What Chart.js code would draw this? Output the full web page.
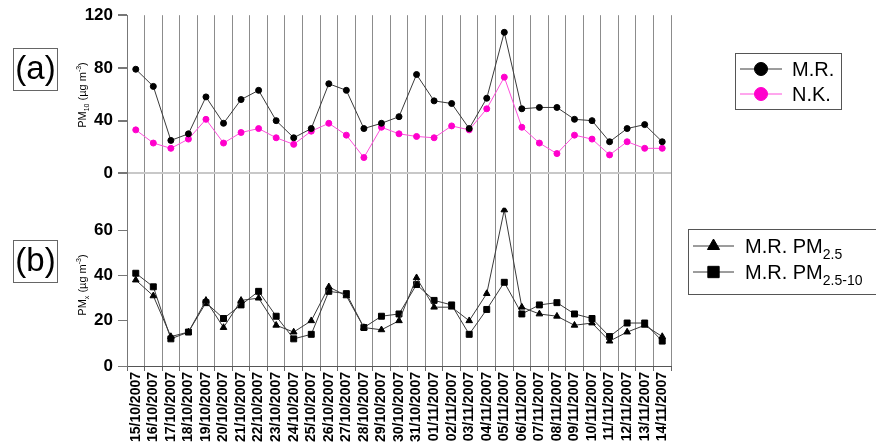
<!DOCTYPE html>
<html>
<head>
<meta charset="utf-8">
<script src="https://cdn.jsdelivr.net/npm/chart.js@4.4.0/dist/chart.umd.min.js"></script>
<style>
html,body{margin:0;padding:0;background:#fff;}
</style>
</head>
<body>
<canvas id="pmChart" width="876" height="445"></canvas>
<script>
// sampling days
const dates = ['15/10/2007','16/10/2007','17/10/2007','18/10/2007','19/10/2007','20/10/2007',
  '21/10/2007','22/10/2007','23/10/2007','24/10/2007','25/10/2007','26/10/2007','27/10/2007',
  '28/10/2007','29/10/2007','30/10/2007','31/10/2007','01/11/2007','02/11/2007','03/11/2007',
  '04/11/2007','05/11/2007','06/11/2007','07/11/2007','08/11/2007','09/11/2007','10/11/2007',
  '11/11/2007','12/11/2007','13/11/2007','14/11/2007'];

// (a) PM10
const mrPM10 = [79,66,25,30,58,38,56,63,40,27,34,68,63,34,38,43,75,55,53,34,57,107,49,50,50,41,40,24,34,37,24];
const nkPM10 = [33,23,19,26,41,23,31,34,27,22,32,38,29,12,35,30,28,27,36,33,49,73,35,23,15,29,26,14,24,19,19];

// (b) PMx at M.R.
const mrPM25   = [38,31,13,15,29,17,29,30,18,15,20,35,31,17,16,20,39,26,26,20,32,69,26,23,22,18,19,11,15,18,13];
const mrPM2510 = [41,35,12,15,28,21,27,33,22,12,14,33,32,17,22,23,36,29,27,14,25,37,23,27,28,23,21,13,19,19,11];

// tick marks (labels only every other one)
const ticksA = [0,20,40,60,80,100,120];
const ticksB = [0,10,20,30,40,50,60,70];

const FONT = '"Liberation Sans", Arial, sans-serif';
const tickFont = {family: FONT, size: 17, weight: 'bold'};

function fontFor(mode, size) {
  return (mode === 'n' ? size : Math.round(size * 0.68)) + 'px ' + FONT;
}
function richWidth(ctx, parts, size) {
  let w = 0;
  parts.forEach(p => { ctx.font = fontFor(p[1], size); w += ctx.measureText(p[0]).width; });
  return w;
}
function drawRich(ctx, parts, x, y, size) {
  ctx.textAlign = 'left';
  ctx.textBaseline = 'alphabetic';
  parts.forEach(p => {
    ctx.font = fontFor(p[1], size);
    const dy = p[1] === 'sub' ? size * 0.3 : p[1] === 'sup' ? -size * 0.42 : 0;
    ctx.fillText(p[0], x, y + dy);
    x += ctx.measureText(p[0]).width;
  });
}

const titleA = [['PM','n'],['10','sub'],[' (\u00b5g m','n'],['-3','sup'],[')','n']];
const titleB = [['PM','n'],['x','sub'],[' (\u00b5g m','n'],['-3','sup'],[')','n']];

const legendA = {box: [735, 53, 106, 56], lineX: [740, 782], textX: 792, rows: [
  {ds: 0, y: 69, r: 6.5, parts: [['M.R.','n']]},
  {ds: 1, y: 94, r: 6.5, parts: [['N.K.','n']]}
]};
const legendB = {box: [688, 229, 200, 65], lineX: [693, 734], textX: 745, rows: [
  {ds: 2, y: 246, r: 7, parts: [['M.R. PM','n'],['2.5','sub']]},
  {ds: 3, y: 272, r: 8, parts: [['M.R. PM','n'],['2.5-10','sub']]}
]};

const decor = {
  id: 'decor',
  afterDraw(chart) {
    const ctx = chart.ctx;
    ctx.save();
    ctx.fillStyle = '#000';

    // panel letters
    [['(a)', 48], ['(b)', 240]].forEach(([t, y]) => {
      ctx.strokeStyle = '#666';
      ctx.lineWidth = 1;
      ctx.strokeRect(13.5, y + 0.5, 44, 42);
      ctx.font = '33px ' + FONT;
      ctx.textAlign = 'center';
      ctx.textBaseline = 'middle';
      ctx.fillText(t, 35.5, y + 22);
    });

    // axis titles
    [[titleA, 95], [titleB, 285]].forEach(([parts, cy]) => {
      ctx.save();
      ctx.translate(82, cy);
      ctx.rotate(-Math.PI / 2);
      const w = richWidth(ctx, parts, 11);
      drawRich(ctx, parts, -w / 2, 4, 11);
      ctx.restore();
    });

    // legends
    [legendA, legendB].forEach(lg => {
      ctx.strokeStyle = '#555';
      ctx.lineWidth = 1;
      ctx.strokeRect(lg.box[0] + 0.5, lg.box[1] + 0.5, lg.box[2], lg.box[3]);
      lg.rows.forEach(row => {
        const ds = chart.data.datasets[row.ds];
        ctx.strokeStyle = ds.borderColor;
        ctx.beginPath();
        ctx.moveTo(lg.lineX[0], row.y);
        ctx.lineTo(lg.lineX[1], row.y);
        ctx.stroke();
        ctx.fillStyle = ds.pointBackgroundColor;
        ctx.strokeStyle = ds.pointBackgroundColor;
        Chart.helpers.drawPoint(ctx, {pointStyle: ds.pointStyle, radius: row.r, rotation: 0, borderWidth: 1},
          (lg.lineX[0] + lg.lineX[1]) / 2, row.y);
        ctx.fillStyle = '#000';
        drawRich(ctx, row.parts, lg.textX, row.y + 7, 20);
      });
    });
    ctx.restore();
  }
};

new Chart(document.getElementById('pmChart'), {
  type: 'line',
  data: {
    labels: dates,
    datasets: [
      {
        label: 'M.R.',
        data: mrPM10,
        yAxisID: 'yA',
        borderColor: '#3a3a3a',
        borderWidth: 1,
        pointStyle: 'circle',
        pointRadius: 3,
        pointBackgroundColor: '#000',
        pointBorderColor: '#000',
        tension: 0
      },
      {
        label: 'N.K.',
        data: nkPM10,
        yAxisID: 'yA',
        borderColor: '#ff4fdc',
        borderWidth: 1,
        pointStyle: 'circle',
        pointRadius: 3,
        pointBackgroundColor: '#ff00cc',
        pointBorderColor: '#ff00cc',
        tension: 0
      },
      {
        label: 'M.R. PM2.5',
        data: mrPM25,
        yAxisID: 'yB',
        borderColor: '#3a3a3a',
        borderWidth: 1,
        pointStyle: 'triangle',
        pointRadius: 3.8,
        pointBackgroundColor: '#000',
        pointBorderColor: '#000',
        tension: 0
      },
      {
        label: 'M.R. PM2.5-10',
        data: mrPM2510,
        yAxisID: 'yB',
        borderColor: '#3a3a3a',
        borderWidth: 1,
        pointStyle: 'rect',
        pointRadius: 4.2,
        pointBackgroundColor: '#000',
        pointBorderColor: '#000',
        tension: 0
      }
    ]
  },
  options: {
    responsive: false,
    animation: false,
    events: [],
    layout: {padding: {top: 7, right: 205, left: 0, bottom: 0}},
    plugins: {
      legend: {display: false},
      tooltip: {enabled: false}
    },
    scales: {
      x: {
        type: 'category',
        offset: true,
        grid: {offset: true, color: '#8c8c8c', lineWidth: 1, tickLength: 5, tickColor: '#666'},
        border: {color: '#555'},
        ticks: {
          autoSkip: false, minRotation: 90, maxRotation: 90, padding: 1,
          color: '#000', font: {family: FONT, size: 14, weight: 'bold'}
        },
        afterFit: s => { s.height = 79; }
      },
      yB: {
        type: 'linear',
        position: 'left',
        stack: 'pm',
        stackWeight: 158,
        min: 0,
        max: 70,
        afterBuildTicks: s => { s.ticks = ticksB.map(v => ({value: v})); },
        ticks: {callback: v => v % 20 === 0 ? v : '', color: '#000', font: tickFont, padding: 5},
        grid: {color: 'rgba(0,0,0,0)', tickColor: '#777', tickLength: 9},
        border: {color: '#777'},
        afterFit: s => { s.width = 127; }
      },
      yA: {
        type: 'linear',
        position: 'left',
        stack: 'pm',
        stackWeight: 192,
        min: -26,
        max: 120,
        afterBuildTicks: s => { s.ticks = ticksA.map(v => ({value: v})); },
        ticks: {callback: v => v % 40 === 0 ? v : '', color: '#000', font: tickFont, padding: 5},
        grid: {
          color: c => c.tick && c.tick.value === 0 ? '#c8c8c8' : 'rgba(0,0,0,0)',
          lineWidth: 2,
          tickColor: '#777',
          tickLength: 9
        },
        border: {color: '#777'},
        afterFit: s => { s.width = 127; }
      }
    }
  },
  plugins: [decor]
});
</script>
</body>
</html>
